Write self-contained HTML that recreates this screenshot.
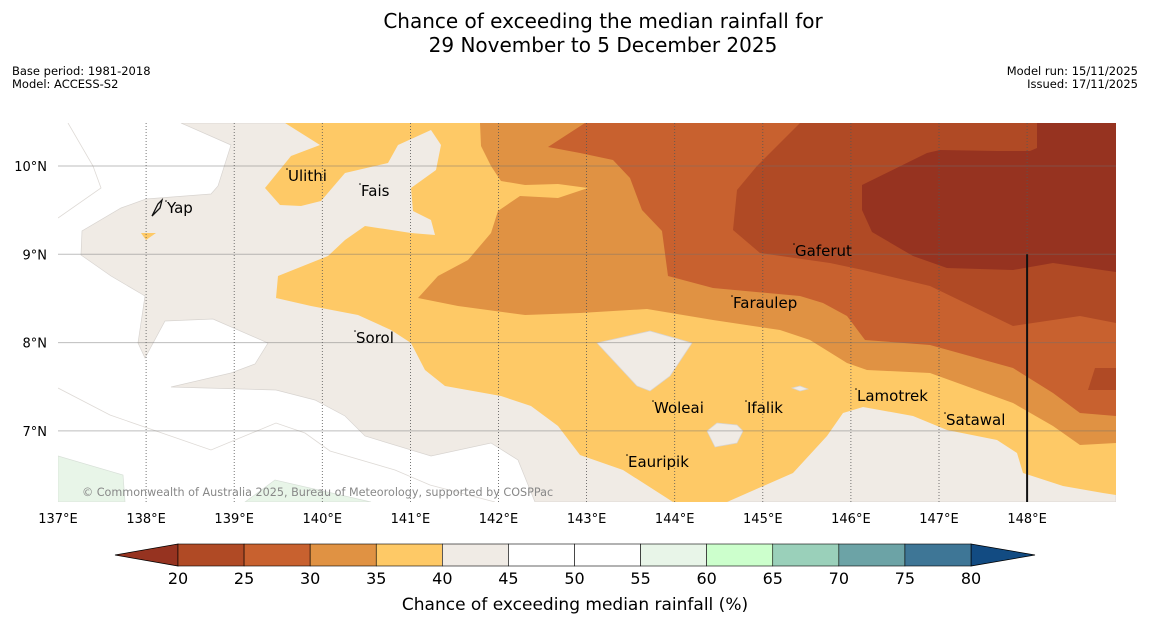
<!DOCTYPE html>
<html><head><meta charset="utf-8"><style>
body{margin:0;background:#fff;width:1150px;height:644px;overflow:hidden;font-family:"Liberation Sans","DejaVu Sans",sans-serif}
svg{position:absolute;left:0;top:0}
</style></head><body>
<svg id="s" width="1150" height="644" xmlns="http://www.w3.org/2000/svg">
<text x="603" y="28" font-size="20" text-anchor="middle" font-family="DejaVu Sans">Chance of exceeding the median rainfall for</text>
<text x="603" y="52" font-size="20" text-anchor="middle" font-family="DejaVu Sans">29 November to 5 December 2025</text>
<text x="12" y="75" font-size="11.5" font-family="DejaVu Sans">Base period: 1981-2018</text>
<text x="12" y="88" font-size="11.5" font-family="DejaVu Sans">Model: ACCESS-S2</text>
<text x="1138" y="75" font-size="11.5" text-anchor="end" font-family="DejaVu Sans">Model run: 15/11/2025</text>
<text x="1138" y="88" font-size="11.5" text-anchor="end" font-family="DejaVu Sans">Issued: 17/11/2025</text>
<clipPath id="mc"><rect x="58" y="123" width="1058" height="379"/></clipPath>
<g id="map" clip-path="url(#mc)"></g>
<g id="cb"></g>
<text x="575" y="610" font-size="17" text-anchor="middle" font-family="DejaVu Sans">Chance of exceeding median rainfall (%)</text>
</svg>
<script>
const NS="http://www.w3.org/2000/svg";
const lonTicks=[137,138,139,140,141,142,143,144,145,146,147,148];
const latTicks=[10,9,8,7];
const cbBounds=[20,25,30,35,40,45,50,55,60,65,70,75,80];
const cbColors=["#b04a25","#c8612f","#e09243","#fec966","#f0ebe5","#ffffff","#ffffff","#e8f5e8","#ccffcc","#9ad0ba","#6ca3a6","#3e7696"];
const places=[["Ulithi",288,176],["Fais",361,191],["Yap",167,208],["Gaferut",795,251],["Faraulep",733,303],["Sorol",356,338],["Woleai",654,408],["Ifalik",747,408],["Lamotrek",857,396],["Satawal",946,420],["Eauripik",628,462]];
const xOf=lon=>58+(lon-137)*88.1;
const yOf=lat=>166+(10-lat)*88.3;
const map=document.getElementById('map');
function poly(pts,fill,name,stroke){const p=document.createElementNS(NS,'polygon');p.setAttribute('points',pts.map(a=>a.join(',')).join(' '));p.setAttribute('fill',fill);
if(stroke){p.setAttribute('stroke',stroke);p.setAttribute('stroke-width','0.7');}


map.appendChild(p);}
function pl(pts,name){const p=document.createElementNS(NS,'polyline');p.setAttribute('points',pts.map(a=>a.join(',')).join(' '));p.setAttribute('fill','none');p.setAttribute('stroke','#dedad6');p.setAttribute('stroke-width','0.8');


map.appendChild(p);}
pl([[68,123],[93,166],[101,188],[58,218]],'contour-line-a');
pl([[58,388],[110,415],[211,450],[276,423],[305,433],[330,451],[395,470],[430,485],[495,502]],'contour-line-b');
poly([[181,123],[231,145],[218,186],[211,194],[146,199],[121,208],[82,231],[81,255],[111,276],[145,296],[138,343],[145,358],[165,321],[213,319],[268,343],[255,364],[231,373],[171,387],[276,390],[315,400],[345,416],[365,436],[431,456],[491,443],[518,460],[535,502],[1116,502],[1116,123]],"#f0ebe5","region-40-45","#d8d4d0");
poly([[58,456],[123,475],[125,502],[58,502]],"#e8f5e8","region-55-60-a","#d8e0d8");
poly([[245,502],[275,480],[371,502]],"#e8f5e8","region-55-60-b","#d8e0d8");
poly([[285,123],[320,145],[291,156],[265,188],[280,205],[301,206],[321,201],[345,173],[388,163],[398,145],[431,130],[441,145],[436,170],[411,188],[413,211],[431,220],[435,235],[411,233],[365,226],[345,240],[328,256],[278,276],[276,298],[311,306],[358,315],[391,330],[411,343],[425,370],[445,386],[501,396],[531,406],[558,426],[580,455],[623,470],[673,502],[727,502],[793,473],[827,436],[843,413],[863,407],[913,416],[947,430],[997,440],[1017,453],[1023,473],[1063,486],[1103,493],[1116,495],[1116,123]],"#fec966","region-35-40");
poly([[141,233],[156,233],[146,240]],"#fec966","region-35-40-yap");
poly([[597,343],[650,331],[692,343],[670,376],[650,391],[637,386]],"#f0ebe5","hole-woleai","#d8d4d0");
poly([[792,388],[800,386],[808,389],[800,391]],"#f0ebe5","hole-small","#d8d4d0");
poly([[707,431],[717,423],[737,425],[743,431],[737,443],[715,447]],"#f0ebe5","hole-ifalik","#d8d4d0");
poly([[480,123],[481,146],[491,166],[501,181],[525,185],[558,184],[588,188],[558,198],[520,196],[498,211],[491,233],[468,260],[438,276],[418,298],[458,306],[525,315],[580,313],[647,309],[713,320],[780,330],[810,340],[847,363],[867,370],[930,373],[1013,403],[1053,426],[1080,445],[1116,443],[1116,123]],"#e09243","region-30-35");
poly([[585,123],[548,147],[580,153],[613,160],[630,178],[642,210],[662,231],[668,276],[713,288],[800,296],[823,303],[847,316],[865,340],[930,345],[1013,368],[1053,393],[1080,413],[1116,416],[1116,123]],"#c8612f","region-25-30");
poly([[800,123],[780,143],[757,166],[737,190],[733,230],[760,253],[830,263],[863,270],[930,286],[1013,326],[1053,320],[1080,316],[1116,323],[1116,123]],"#b04a25","region-20-25");
poly([[1088,390],[1095,368],[1116,368],[1116,390]],"#b04a25","region-20-25-east");
poly([[1037,123],[1037,148],[1030,151],[997,151],[940,150],[927,153],[862,185],[862,210],[872,232],[913,256],[947,268],[1013,270],[1053,263],[1116,272],[1116,123]],"#963320","region-below-20");
const s=document.getElementById('s');
function add(par,tag,attrs,txt){const e=document.createElementNS(NS,tag);for(const k in attrs)e.setAttribute(k,attrs[k]);if(txt!==undefined)e.textContent=txt;par.appendChild(e);return e;}
latTicks.forEach(l=>{const y=yOf(l);
const ln=add(map,'line',{x1:58,x2:1116,y1:y,y2:y,stroke:'rgba(110,110,110,0.45)','stroke-width':1});


const t=add(s,'text',{x:47,y:y+5,'font-size':13,'text-anchor':'end','font-family':'DejaVu Sans'},l+'°N');

});
lonTicks.forEach(l=>{const x=xOf(l);
if(l>137){const ln=add(map,'line',{x1:x,x2:x,y1:123,y2:502,stroke:'#555','stroke-width':0.8,'stroke-dasharray':'1,2'});

}
const t=add(s,'text',{x:x,y:523,'font-size':13,'text-anchor':'middle','font-family':'DejaVu Sans'},l+'°E');

});
const bl=add(map,'line',{x1:xOf(148),x2:xOf(148),y1:yOf(9),y2:502,stroke:'#111','stroke-width':2});


const yap=add(map,'path',{d:'M152,216 L158,204 L162,200 L160,208 Z',fill:'none',stroke:'#111','stroke-width':1.3});


places.forEach(p=>{
const d=add(map,'circle',{cx:p[1]-1,cy:p[2]-7,r:0.8,fill:'#000'});


const t=add(map,'text',{x:p[1],y:p[2]+5,'font-size':15,'font-family':'DejaVu Sans'},p[0]);

});
const cp=add(map,'text',{x:82,y:496,'font-size':11.2,fill:'#888','font-family':'DejaVu Sans'},'© Commonwealth of Australia 2025, Bureau of Meteorology, supported by COSPPac');


const cb=document.getElementById('cb');
const cx0=178,cx1=971,cy=544,ch=22;
const cxOf=v=>cx0+(v-20)/(60)*(cx1-cx0);
const le=add(cb,'polygon',{points:`${cx0},${cy} 115,${cy+ch/2} ${cx0},${cy+ch}`,fill:'#963320',stroke:'#000','stroke-width':0.8});


const re=add(cb,'polygon',{points:`${cx1},${cy} 1035,${cy+ch/2} ${cx1},${cy+ch}`,fill:'#124b82',stroke:'#000','stroke-width':0.8});


cbColors.forEach((c,i)=>{const x=cxOf(cbBounds[i]),w=cxOf(cbBounds[i+1])-x;
const r=add(cb,'rect',{x:x,y:cy,width:w,height:ch,fill:c,stroke:'#000','stroke-width':0.6});

});
cbBounds.forEach(v=>{
const t=add(cb,'text',{x:cxOf(v),y:584,'font-size':16,'text-anchor':'middle','font-family':'DejaVu Sans'},v);

});
</script>
</body></html>
